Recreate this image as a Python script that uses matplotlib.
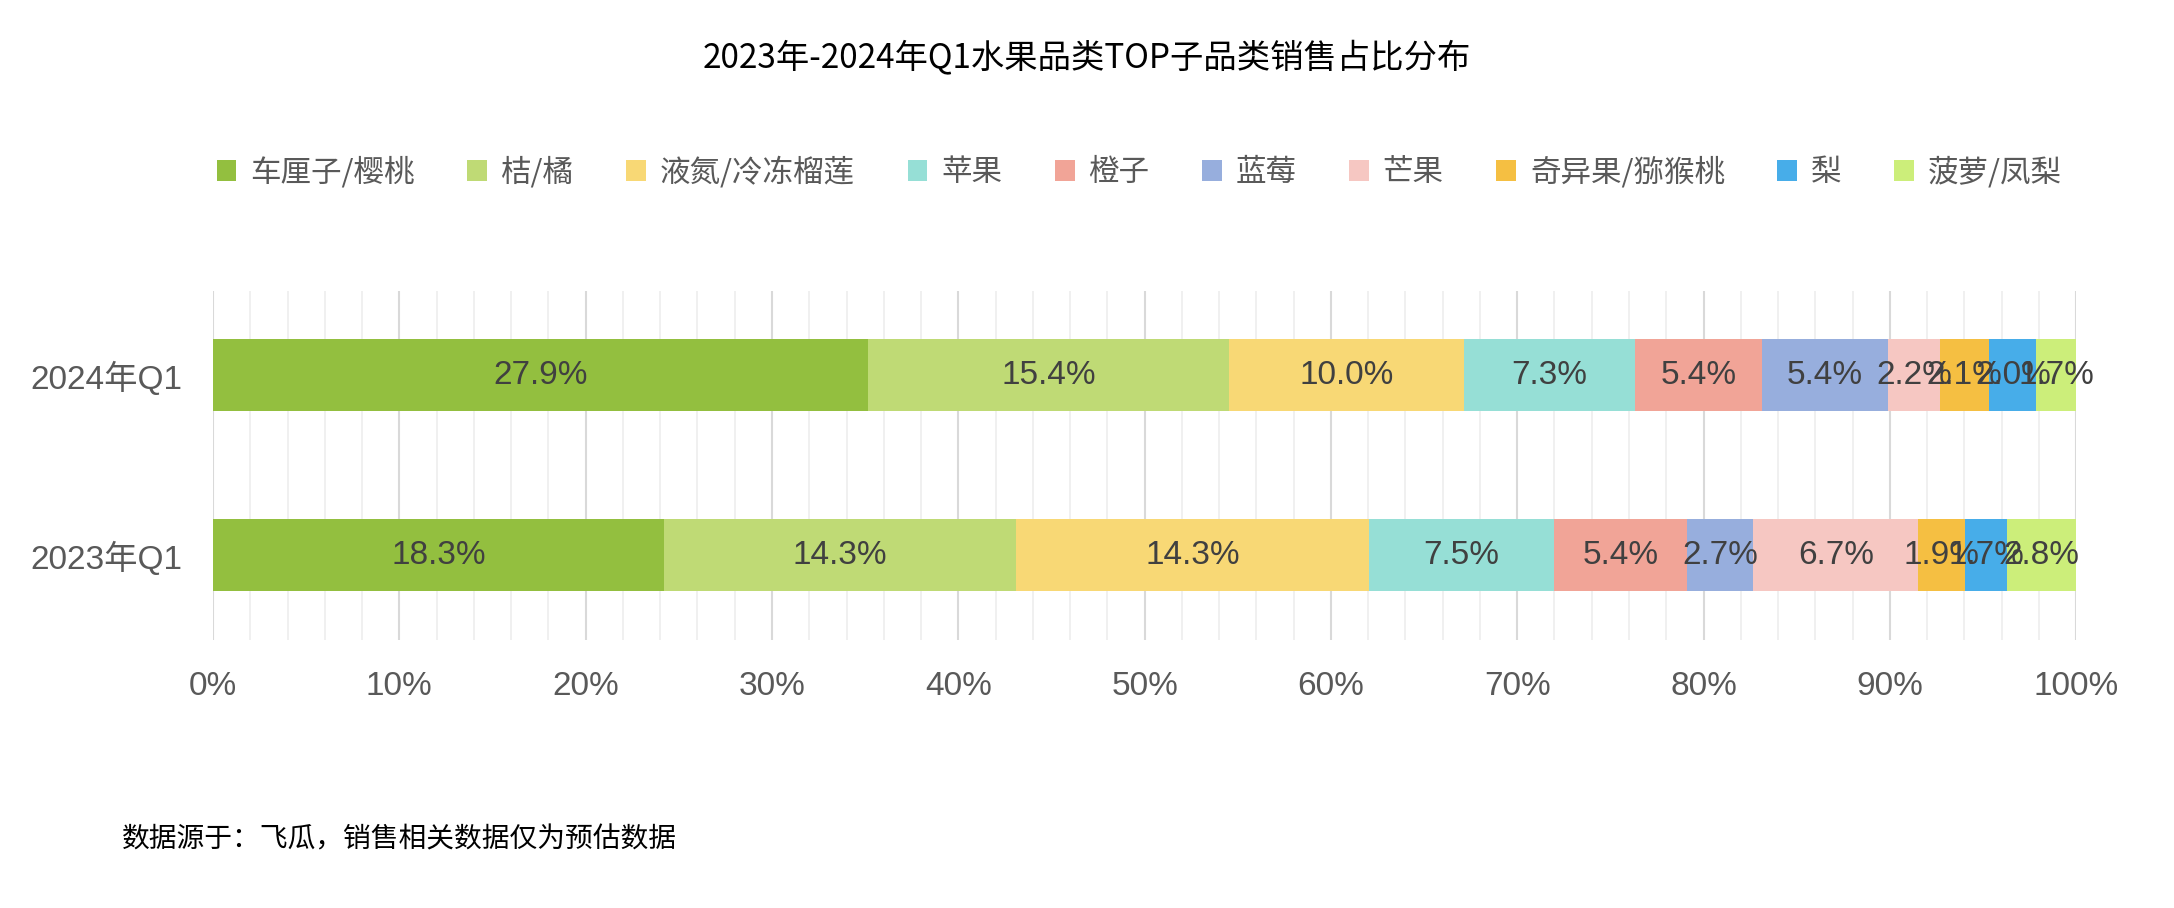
import numpy as np
import matplotlib.pyplot as plt
from matplotlib.ticker import MultipleLocator, PercentFormatter

plt.rcParams['font.family'] = ['Liberation Sans', 'Noto Sans CJK SC', 'DejaVu Sans']

periods = ['2023年Q1', '2024年Q1']
fruits = ['车厘子/樱桃', '桔/橘', '液氮/冷冻榴莲', '苹果', '橙子', '蓝莓', '芒果',
          '奇异果/猕猴桃', '梨', '菠萝/凤梨']
share_2023 = [18.3, 14.3, 14.3, 7.5, 5.4, 2.7, 6.7, 1.9, 1.7, 2.8]
share_2024 = [27.9, 15.4, 10.0, 7.3, 5.4, 5.4, 2.2, 2.1, 2.0, 1.7]
colors = ['#93bf3f', '#bfda75', '#f8d875', '#96dfd6', '#f1a497', '#97aedd',
          '#f6c7c2', '#f5bf42', '#47ade9', '#ccee7a']

data = np.array([share_2023, share_2024])  # rows: periods
norm = data / data.sum(axis=1, keepdims=True) * 100

fig = plt.figure(figsize=(21.74, 9.08), dpi=100)
ax = fig.add_axes([0.098, 0.295, 0.857, 0.385])

y = np.arange(len(periods))
left = np.zeros(len(periods))
for i, name in enumerate(fruits):
    ax.barh(y, norm[:, i], left=left, height=0.4, color=colors[i],
            label=name, zorder=3)
    for j in range(len(periods)):
        ax.text(left[j] + norm[j, i] / 2, y[j], f'{data[j, i]:.1f}%',
                ha='center', va='center', fontsize=24, color='#404040', zorder=4)
    left += norm[:, i]

ax.set_xlim(0, 100)
ax.set_ylim(-0.47, 1.47)
ax.set_yticks(y)
ax.set_yticklabels(periods)
ax.xaxis.set_major_locator(MultipleLocator(10))
ax.xaxis.set_minor_locator(MultipleLocator(2))
ax.xaxis.set_major_formatter(PercentFormatter(decimals=0))
ax.grid(axis='x', which='major', color='#d9d9d9', lw=1.5, zorder=0)
ax.grid(axis='x', which='minor', color='#eeeeee', lw=1.2, zorder=0)
ax.tick_params(axis='both', which='both', length=0, labelsize=24,
               labelcolor='#595959')
ax.tick_params(axis='x', pad=22)
ax.tick_params(axis='y', pad=22)
for s in ax.spines.values():
    s.set_visible(False)

fig.text(0.5, 0.936, '2023年-2024年Q1水果品类TOP子品类销售占比分布',
         ha='center', va='center', fontsize=24, color='black',
         family=['Noto Sans CJK SC', 'DejaVu Sans'])

fig.legend(loc='center', bbox_to_anchor=(0.524, 0.81), ncol=10, frameon=False,
           handlelength=0.65, handleheight=0.65, handletextpad=0.45,
           columnspacing=1.72, labelcolor='#595959',
           prop={'family': ['Noto Sans CJK SC', 'DejaVu Sans'], 'size': 22})

fig.text(0.056, 0.075, '数据源于：飞瓜，销售相关数据仅为预估数据',
         ha='left', va='center', fontsize=20, color='black',
         family=['Noto Sans CJK SC', 'DejaVu Sans'])

fig.savefig('out.png', dpi=100, facecolor='white')
